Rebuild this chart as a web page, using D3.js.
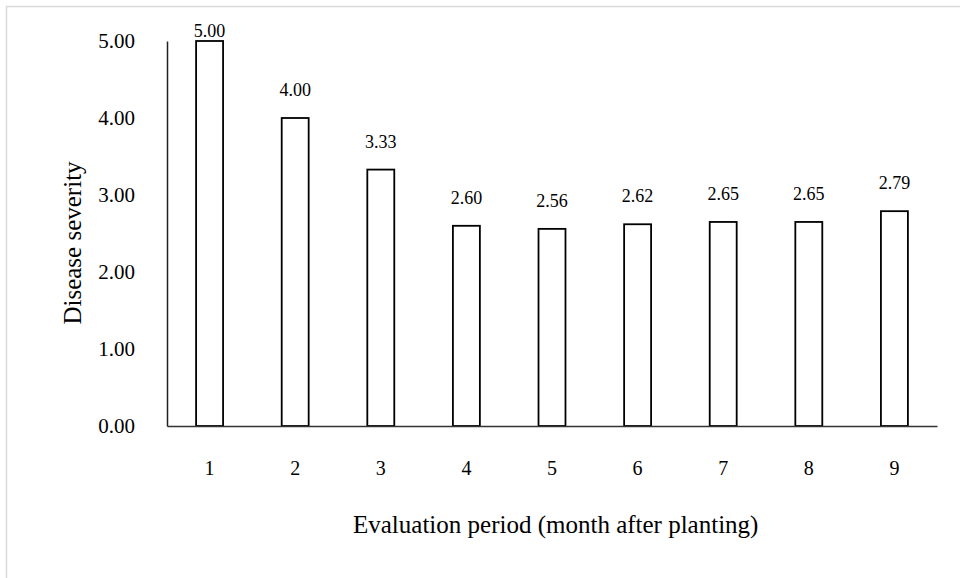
<!DOCTYPE html>
<html>
<head>
<meta charset="utf-8">
<script src="https://cdn.jsdelivr.net/npm/d3@7"></script>
<style>
  body { margin: 0; background: #fff; }
  svg { display: block; }
</style>
</head>
<body>
<div id="chart"></div>
<script>
  // data
  let months = ["1", "2", "3", "4", "5", "6", "7", "8", "9"];
  let severity = [5.00, 4.00, 3.33, 2.60, 2.56, 2.62, 2.65, 2.65, 2.79];
  let yTicks = [0, 1, 2, 3, 4, 5];

  let width = 960;
  let height = 578;
  let serif = "Liberation Serif, Times New Roman, serif";

  let plot = { left: 167, right: 937, top: 41, bottom: 426 };

  let svg = d3.select("#chart").append("svg")
              .attr("width", width)
              .attr("height", height)
              .attr("font-family", serif);

  // outer frame (cut off at right and bottom)
  svg.append("rect")
     .attr("x", 6.5)
     .attr("y", 6.5)
     .attr("width", width)
     .attr("height", height)
     .attr("fill", "#fff")
     .attr("stroke", "#d9d9d9")
     .attr("stroke-width", 1.5);

  let x = d3.scaleBand()
            .domain(months)
            .range([plot.left, plot.right])
            .paddingInner(0.685)
            .paddingOuter(0.34);

  let y = d3.scaleLinear()
            .domain([0, 5])
            .range([plot.bottom, plot.top]);

  // y axis
  let yAxis = svg.append("g")
                 .attr("transform", "translate(" + plot.left + ",0)")
                 .call(d3.axisLeft(y).tickValues(yTicks).tickSize(0).tickPadding(32)
                         .tickFormat(d3.format(".2f")));
  yAxis.select(".domain").attr("stroke", "#222").attr("stroke-width", 1.5);
  yAxis.selectAll("text")
       .attr("font-size", 21)
       .attr("font-family", serif)
       .attr("fill", "#000");

  // bars
  svg.selectAll(".bar")
     .data(severity)
     .enter()
     .append("rect")
     .attr("class", "bar")
     .attr("x", function(d, i) { return x(months[i]); })
     .attr("y", function(d) { return y(d); })
     .attr("width", x.bandwidth())
     .attr("height", function(d) { return plot.bottom - y(d); })
     .attr("fill", "#fff")
     .attr("stroke", "#000")
     .attr("stroke-width", 1.8);

  // x axis
  let xAxis = svg.append("g")
                 .attr("transform", "translate(0," + plot.bottom + ")")
                 .call(d3.axisBottom(x).tickSize(0).tickPadding(35));
  xAxis.select(".domain").attr("stroke", "#333").attr("stroke-width", 1.5);
  xAxis.selectAll("text")
       .attr("font-size", 20)
       .attr("font-family", serif)
       .attr("fill", "#000");

  // value labels
  svg.selectAll(".value-label")
     .data(severity)
     .enter()
     .append("text")
     .attr("class", "value-label")
     .attr("x", function(d, i) { return x(months[i]) + x.bandwidth() / 2; })
     .attr("y", function(d) { return Math.max(y(d) - 22, y(5) - 4); })
     .attr("text-anchor", "middle")
     .attr("font-size", 18)
     .attr("font-family", serif)
     .attr("fill", "#000")
     .text(function(d) { return d3.format(".2f")(d); });

  // axis titles
  svg.append("text")
     .attr("transform", "translate(81,243) rotate(-90)")
     .attr("text-anchor", "middle")
     .attr("font-size", 25)
     .attr("font-family", serif)
     .text("Disease severity");

  svg.append("text")
     .attr("x", 353)
     .attr("y", 533)
     .attr("font-size", 25)
     .attr("font-family", serif)
     .text("Evaluation period (month after planting)");
</script>
</body>
</html>
